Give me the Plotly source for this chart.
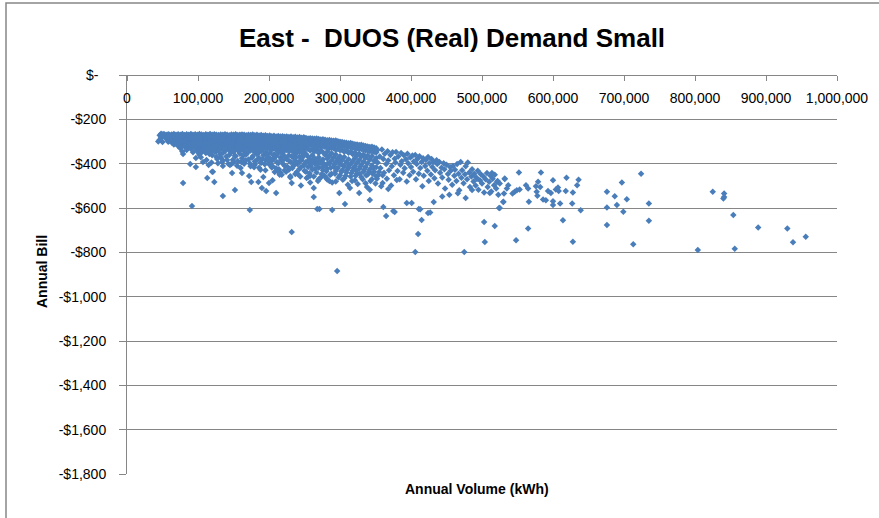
import plotly.graph_objects as go

# Annual volume is kept in MWh (x1000 = kWh), annual bill in $.
# Dense band of small customers: (volume MWh, [bills read at that volume])
band_columns = [
    (44, [-300]), (46, [-272, -292]), (48, [-265, -283]), (50, [-268, -302]),
    (52, [-275, -266]), (55, [-270, -288]), (58, [-267, -280, -301]),
    (60, [-270, -282, -296]), (63, [-268, -277, -290, -305]),
    (66, [-266, -275, -287, -300, -314]), (69, [-270, -281, -293, -309]),
    (72, [-267, -278, -291, -303, -320]), (75, [-269, -284, -297, -312, -330]),
    (78, [-266, -276, -289, -301, -318, -345]), (81, [-271, -283, -295, -308, -322]),
    (84, [-267, -279, -292, -306, -318, -338]), (87, [-270, -281, -296, -311, -326]),
    (90, [-266, -277, -289, -302, -315, -333]), (93, [-269, -283, -294, -307, -321, -348]),
    (96, [-267, -276, -290, -304, -317, -330]), (99, [-270, -282, -295, -309, -324, -342]),
    (102, [-266, -279, -291, -303, -316, -334, -360]),
    (105, [-268, -280, -293, -306, -319, -331, -348]),
    (108, [-271, -284, -297, -311, -325, -340]),
    (111, [-267, -278, -290, -302, -317, -329, -352]),
    (114, [-269, -282, -295, -308, -320, -336]),
    (117, [-266, -277, -289, -301, -314, -327, -345]),
    (120, [-270, -283, -296, -310, -323, -338, -362]),
    (123, [-267, -279, -291, -305, -318, -332]),
    (126, [-269, -281, -294, -307, -321, -344, -370]),
    (129, [-271, -284, -298, -312, -326, -340]),
    (132, [-268, -280, -292, -305, -319, -334, -371]),
    (135, [-270, -282, -295, -309, -323, -352]),
    (138, [-267, -278, -290, -303, -316, -330, -344]),
    (141, [-269, -283, -297, -311, -325, -383]),
    (144, [-272, -285, -298, -310, -324, -338, -361]),
    (147, [-268, -280, -293, -306, -320, -335, -402]),
    (150, [-270, -282, -296, -310, -325, -347]),
    (153, [-267, -279, -291, -304, -318, -332, -366]),
    (156, [-271, -284, -297, -311, -326, -339, -388]),
    (159, [-269, -281, -294, -308, -322, -355]),
    (162, [-268, -280, -292, -305, -319, -334, -376]),
    (165, [-270, -283, -297, -310, -324, -344, -395]),
    (168, [-272, -285, -299, -313, -327, -359]),
    (171, [-269, -281, -293, -306, -320, -335, -381]),
    (174, [-271, -284, -298, -312, -326, -341, -412]),
    (177, [-268, -280, -292, -305, -319, -333, -367]),
    (180, [-272, -286, -300, -314, -329, -348, -390]),
    (183, [-270, -282, -295, -309, -323, -338, -357]),
    (186, [-273, -287, -301, -315, -330, -374, -418]),
    (189, [-271, -284, -297, -311, -325, -343, -396]),
    (192, [-274, -288, -302, -316, -331, -362]),
    (195, [-272, -285, -298, -312, -327, -349, -383, -430]),
    (198, [-275, -289, -303, -318, -333, -370]),
    (201, [-273, -286, -300, -314, -329, -352, -405]),
    (204, [-276, -290, -305, -320, -336, -388]),
    (207, [-274, -287, -301, -316, -331, -358, -377]),
    (210, [-277, -291, -306, -321, -337, -365, -421]),
    (213, [-275, -289, -303, -318, -334, -349, -398]),
    (216, [-278, -292, -307, -323, -339, -372, -440]),
    (219, [-276, -290, -305, -320, -336, -355, -387]),
    (222, [-279, -294, -309, -325, -341, -368, -409]),
    (225, [-277, -291, -306, -322, -338, -380]),
    (228, [-280, -295, -310, -326, -343, -362, -428]),
    (231, [-278, -292, -307, -323, -340, -394]),
    (234, [-281, -296, -312, -328, -345, -371, -412]),
    (237, [-279, -294, -309, -325, -342, -358, -386, -447]),
    (240, [-282, -297, -313, -330, -348, -401]),
    (243, [-280, -295, -311, -327, -344, -369, -423]),
    (246, [-283, -299, -315, -332, -350, -384]),
    (249, [-281, -297, -313, -329, -347, -362, -408]),
    (252, [-284, -298, -314, -331, -356, -392, -437]),
    (255, [-286, -301, -317, -334, -369, -415]),
    (258, [-285, -300, -316, -341, -380, -402, -455]),
    (261, [-287, -302, -318, -336, -362, -426]),
    (264, [-288, -303, -320, -345, -375, -398]),
    (267, [-286, -301, -318, -336, -389, -440]),
    (270, [-289, -305, -322, -352, -371, -418]),
    (273, [-291, -306, -323, -341, -397, -462]),
    (276, [-290, -304, -321, -348, -381, -430]),
    (279, [-292, -308, -325, -360, -408]),
    (282, [-294, -310, -327, -346, -377, -422, -471]),
    (285, [-293, -309, -330, -365, -399]),
    (288, [-295, -311, -329, -353, -386, -445]),
    (291, [-297, -313, -331, -372, -414]),
    (294, [-296, -313, -337, -359, -392, -433, -480]),
    (297, [-299, -316, -334, -378, -420]),
    (300, [-301, -318, -340, -366, -403, -452]),
    (303, [-302, -319, -338, -385, -431]),
    (306, [-304, -321, -346, -370, -411, -466]),
    (309, [-306, -323, -342, -393, -440]),
    (312, [-308, -325, -351, -380, -419]),
    (315, [-307, -325, -345, -402, -458]),
    (318, [-310, -328, -357, -388, -432]),
    (321, [-312, -330, -350, -376, -412, -475]),
    (324, [-314, -332, -362, -396, -444]),
    (327, [-316, -334, -355, -384, -423]),
    (330, [-315, -334, -368, -405, -461]),
    (333, [-318, -337, -359, -391, -436]),
    (336, [-320, -339, -374, -415, -488]),
    (339, [-322, -341, -363, -398, -449]),
    (342, [-325, -344, -381, -425]),
    (345, [-324, -344, -367, -408, -470]),
    (348, [-327, -347, -388, -437]),
    (351, [-330, -350, -375, -416, -457]),
]

# Scattered points filling the lower part of the cloud, 100 - 360 MWh
fill_points = [
    (101, -352), (104, -371), (109, -338), (112, -384), (116, -356), (119, -395),
    (124, -347), (127, -379), (131, -358), (134, -392), (137, -336), (140, -368),
    (143, -401), (146, -352), (149, -382), (152, -364), (155, -409), (158, -343),
    (161, -393), (164, -362), (167, -385), (170, -350), (173, -399), (176, -373),
    (179, -416), (182, -386), (185, -352), (188, -427), (191, -378), (194, -403),
    (197, -356), (199, -390), (202, -378), (204, -417), (206, -361), (208, -438),
    (211, -392), (212, -355), (214, -425), (217, -383), (218, -450), (220, -401),
    (223, -372), (224, -436), (226, -414), (229, -389), (230, -457), (232, -366),
    (233, -420), (236, -401), (238, -371), (239, -438), (242, -392), (244, -458),
    (245, -415), (247, -372), (250, -432), (251, -398), (253, -465), (256, -385),
    (257, -443), (259, -412), (262, -391), (263, -458), (265, -423), (268, -405),
    (269, -478), (271, -386), (274, -448), (275, -417), (277, -399), (280, -462),
    (281, -434), (283, -398), (286, -451), (287, -418), (289, -485), (292, -403),
    (293, -445), (295, -421), (298, -462), (299, -393), (302, -437), (304, -472),
    (305, -412), (308, -455), (310, -428), (311, -495), (313, -406), (316, -442),
    (317, -478), (319, -418), (322, -455), (323, -432), (325, -492), (328, -447),
    (329, -412), (332, -470), (334, -428), (337, -452), (338, -505), (341, -435),
    (343, -478), (346, -445), (347, -420), (350, -490), (352, -468), (355, -438),
    (358, -502), (360, -452),
]

# Looser spread of larger customers, 350 - 525 MWh: (volume MWh, bill)
spread_points = [
    (352, -341), (353, -395), (354, -452), (356, -368), (357, -420), (359, -336),
    (360, -487), (361, -379), (362, -441), (363, -355), (365, -402), (366, -468),
    (367, -344), (368, -386), (369, -430), (371, -361), (372, -498), (373, -412),
    (374, -348), (376, -452), (377, -378), (378, -395), (379, -347), (381, -433),
    (382, -368), (384, -470), (385, -405), (386, -352), (387, -389), (389, -441),
    (390, -362), (391, -421), (393, -380), (394, -480), (395, -355), (396, -398),
    (398, -452), (399, -372), (400, -415), (402, -363), (403, -436), (404, -390),
    (406, -361), (407, -470), (408, -401), (409, -379), (411, -445), (412, -366),
    (413, -420), (415, -392), (416, -502), (417, -375), (418, -455), (420, -410),
    (421, -383), (423, -432), (424, -370), (425, -478), (426, -398), (428, -449),
    (429, -379), (430, -415), (432, -392), (433, -466), (434, -430), (436, -385),
    (437, -402), (438, -489), (440, -392), (441, -441), (443, -418), (444, -462),
    (446, -398), (447, -425), (448, -512), (450, -405), (452, -447), (453, -472),
    (455, -415), (456, -432), (458, -495), (459, -410), (461, -455), (462, -428),
    (464, -478), (465, -402), (467, -445), (468, -520), (470, -392), (471, -463),
    (472, -430), (474, -488), (476, -448), (477, -412), (479, -470), (480, -395),
    (482, -440), (483, -505), (485, -458), (486, -425), (488, -480), (489, -445),
    (491, -498), (492, -462), (494, -432), (495, -518), (497, -475), (498, -447),
    (500, -490), (502, -458), (503, -530), (505, -470), (507, -442), (508, -505),
    (510, -482), (512, -455), (513, -525), (515, -468), (517, -497), (518, -450),
    (520, -512), (522, -478), (523, -540),
]

# Individually read points: stragglers below the band
outlier_vol = [
    79, 79, 89, 91.5, 97, 97, 107, 113, 115, 120, 121, 123, 128, 135, 135, 135,
    145, 148, 150, 152, 160, 162, 165, 172, 173, 175, 180, 185, 188, 190, 192,
    196, 200, 205, 205, 210, 213, 215, 222, 230, 232, 232, 240, 245, 255, 258,
    263, 263, 268, 271, 270, 278, 285, 289, 296, 299, 307, 314, 327, 342, 342,
    361, 365, 368, 375, 377, 380, 394, 401, 406, 410, 411, 413, 415, 424, 427,
    432, 444, 454, 466, 475, 477, 486, 493, 503, 504, 511, 514, 518, 521, 524,
    530, 532,
]
outlier_bill = [
    -356, -487, -401, -591, -374, -415, -392, -465, -406, -437, -437, -483, -398, -546, -410, -385,
    -406, -442, -395, -519, -420, -442, -400, -456, -609, -483, -405, -483, -395, -510, -460,
    -523, -487, -412, -475, -532, -437, -450, -430, -462, -708, -487, -445, -498, -460, -485,
    -550, -510, -604, -604, -470, -455, -478, -609, -884, -532, -582, -510, -532, -564, -518,
    -595, -636, -514, -613, -618, -474, -577, -577, -798, -717, -604, -606, -654, -623, -620,
    -573, -548, -540, -533, -798, -555, -519, -469, -663, -753, -532, -442, -681, -483, -600,
    -573, -469,
]

# Sparse tail of the largest customers
tail_vol = [
    525, 525, 531, 530, 532, 535, 537, 543, 546, 549, 552, 553, 548, 562, 565, 566,
    565, 576, 577, 578, 579, 582, 583, 586, 590, 593, 597, 600, 600, 600, 604, 607,
    608, 610, 614, 618, 619, 627, 628, 628, 634, 636, 639, 676, 676, 676, 687, 690,
    697, 699, 704, 713, 724, 735, 735, 804, 825, 841, 841, 840, 854, 856, 889, 930,
    938, 956,
]
tail_bill = [
    -490, -600, -535, -572, -467, -512, -497, -535, -527, -520, -440, -517, -745, -497, -512, -572,
    -693, -502, -527, -545, -482, -505, -440, -562, -565, -523, -532, -475, -587, -569, -517, -508,
    -523, -580, -655, -523, -463, -580, -530, -752, -497, -472, -610, -527, -598, -677, -547, -587,
    -485, -617, -560, -763, -445, -580, -658, -790, -527, -535, -550, -557, -632, -784, -688, -692,
    -754, -730,
]

y_ticks = [0, -200, -400, -600, -800, -1000, -1200, -1400, -1600, -1800]
y_labels = ["$-\u00a0\u00a0", "-$200", "-$400", "-$600", "-$800", "-$1,000",
            "-$1,200", "-$1,400", "-$1,600", "-$1,800"]
x_ticks = [0, 100000, 200000, 300000, 400000, 500000, 600000, 700000, 800000, 900000, 1000000]
x_labels = ["0", "100,000", "200,000", "300,000", "400,000", "500,000",
            "600,000", "700,000", "800,000", "900,000", "1,000,000"]

vols, bills = [], []
for vol, col in band_columns:
    for b in col:
        vols.append(vol * 1000)
        bills.append(b)
for vol, b in fill_points + spread_points:
    vols.append(vol * 1000)
    bills.append(b)
vols += [v * 1000 for v in outlier_vol + tail_vol]
bills += outlier_bill + tail_bill

FONT = "Liberation Sans, Arial, sans-serif"
GREY = "#868686"
W, H = 879, 518
L, R, T, B = 127, 42, 75, 44
pw, ph = W - L - R, H - T - B


def px_x(x):  # pixel -> paper x
    return (x - L) / pw


def px_y(y):  # pixel -> paper y
    return (H - B - y) / ph


fig = go.Figure(go.Scatter(
    x=vols, y=bills, mode="markers",
    marker=dict(symbol="diamond", size=5, color="#4A7EBB", line=dict(width=0)),
    showlegend=False, hoverinfo="x+y",
))

fig.update_layout(
    width=W, height=H, autosize=False,
    margin=dict(l=L, r=R, t=T, b=B),
    paper_bgcolor="white", plot_bgcolor="white",
    font=dict(family=FONT, color="black", size=14),
    title=dict(text="<b>East - \u00a0DUOS (Real) Demand Small</b>",
               x=452 / W, y=1 - 38 / H, xref="container", yref="container",
               xanchor="center", yanchor="middle",
               font=dict(family=FONT, size=26, color="black")),
    xaxis=dict(range=[0, 1000000], tickvals=x_ticks, ticktext=x_labels,
               anchor="free", position=1, side="bottom",
               ticks="outside", ticklen=5, tickcolor=GREY,
               showline=True, linecolor=GREY, linewidth=1,
               showgrid=False, zeroline=False, ticklabelstandoff=5,
               tickfont=dict(size=14)),
    yaxis=dict(range=[-1800, 0], tickvals=y_ticks, ticktext=y_labels,
               ticks="outside", ticklen=7, tickcolor=GREY,
               showline=True, linecolor=GREY, linewidth=1,
               showgrid=True, gridcolor=GREY, gridwidth=1,
               zeroline=False, ticklabelstandoff=10,
               tickfont=dict(size=14)),
    annotations=[
        dict(text="<b>Annual Volume (kWh)</b>", xref="paper", yref="paper",
             x=px_x(477), y=px_y(489), showarrow=False,
             xanchor="center", yanchor="middle", font=dict(size=14)),
        dict(text="<b>Annual Bill</b>", xref="paper", yref="paper",
             x=px_x(42), y=px_y(272), showarrow=False, textangle=-90,
             xanchor="center", yanchor="middle", font=dict(size=14)),
    ],
    shapes=[dict(type="rect", xref="paper", yref="paper",
                 x0=px_x(6), x1=px_x(890), y0=px_y(530), y1=px_y(3),
                 line=dict(color=GREY, width=1.5), layer="above")],
)

# page body has a default 8px margin; drop it so the chart sits at the origin
fig.write_html("out.html", config={"displayModeBar": False},
               post_script="document.body.style.margin='0';")
